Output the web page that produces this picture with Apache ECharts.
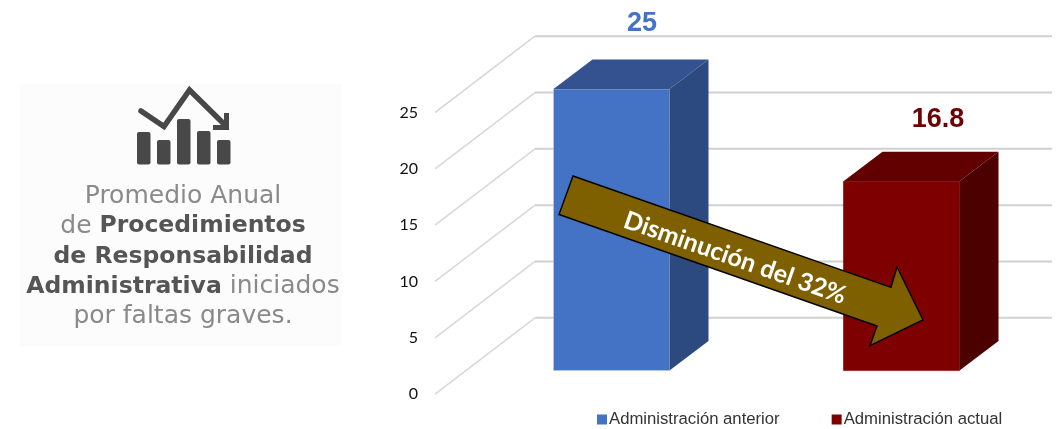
<!DOCTYPE html>
<html>
<head>
<meta charset="utf-8">
<script src="https://cdn.jsdelivr.net/npm/echarts@6/dist/echarts.min.js"></script>
<style>html,body{margin:0;padding:0;background:#fff}#c{width:1062px;height:429px}</style>
</head>
<body>
<div id="c"></div>
<script>
const categories = ['Administración anterior', 'Administración actual'];
const valuesAnterior = [25];
const valuesActual = [16.8];
const yTicks = [0, 5, 10, 15, 20, 25];
const arrowText = 'Disminución del 32%';
const panelLines = '{l|Promedio Anual}\n{l|de }{b|Procedimientos}\n{b|de Responsabilidad}\n{b|Administrativa}{l| iniciados}\n{l|por faltas graves.}';

const wallDx = 100, wallDy = -76.3, wallRight = 1052;
const barFront = [31.5, -23.5], barDepth = [39, -29.5];
const palette = {
  blue: { front: '#4472C4', top: '#34528F', side: '#2C4A80', label: '#4472C4', edge: '#C9CDD6' },
  red: { front: '#7F0000', top: '#620000', side: '#4C0000', label: '#6E0000', edge: '#7F0000' }
};

function wallItem(params, api) {
  const v = api.value(0);
  const y = api.coord([0, v])[1];
  const x = params.coordSys.x;
  return { type: 'group', children: [
    { type: 'line', shape: { x1: x, y1: y, x2: x + wallDx, y2: y + wallDy },
      style: { stroke: '#D9D9D9', lineWidth: 1.6 } },
    { type: 'line', shape: { x1: x + wallDx, y1: y + wallDy, x2: wallRight, y2: y + wallDy },
      style: { stroke: '#D0D0D0', lineWidth: 2 } }
  ] };
}

function barItem(colors, labelDx, labelDy) {
  return function (params, api) {
    const i = api.value(0), v = api.value(1);
    const top = api.coord([i, v]), base = api.coord([i, 0]);
    const w = api.size([1, 0])[0] * 0.4;
    const x0 = top[0] + barFront[0] - w / 2, x1 = x0 + w;
    const yT = top[1] + barFront[1], yB = base[1] + barFront[1];
    const dx = barDepth[0], dy = barDepth[1];
    return { type: 'group', children: [
      { type: 'rect', shape: { x: x0, y: yT, width: w, height: yB - yT },
        style: { fill: colors.front, stroke: colors.edge, lineWidth: 0.6 } },
      { type: 'polygon', shape: { points: [[x0, yT], [x0 + dx, yT + dy], [x1 + dx, yT + dy], [x1, yT]] },
        style: { fill: colors.top } },
      { type: 'polygon', shape: { points: [[x1, yT], [x1 + dx, yT + dy], [x1 + dx, yB + dy], [x1, yB]] },
        style: { fill: colors.side } },
      { type: 'text', x: top[0] + labelDx, y: yT + labelDy,
        style: { text: String(v), fill: colors.label, font: 'bold 27px "Liberation Sans"', align: 'center', verticalAlign: 'middle' } }
    ] };
  };
}

const chart = echarts.init(document.getElementById('c'), null, { renderer: 'canvas' });
chart.setOption({
  animation: false,
  backgroundColor: '#fff',
  grid: { left: 435, width: 580, top: 112.5, height: 281.6 },
  legend: {
    left: 592, top: 411, padding: [0, 0, 0, 5], itemWidth: 10, itemHeight: 10, itemGap: 52, icon: 'rect',
    data: categories,
    textStyle: { fontFamily: 'Liberation Sans', fontSize: 16.7, color: '#333', padding: [0, 0, 0, -3] }
  },
  xAxis: { type: 'category', data: categories, axisLine: { show: false }, axisTick: { show: false }, axisLabel: { show: false } },
  yAxis: { type: 'value', min: 0, max: 25, interval: 5, splitLine: { show: false }, axisLine: { show: false }, axisTick: { show: false },
    axisLabel: { margin: 17, fontFamily: 'Lato', fontSize: 16, color: '#111' } },
  series: [
    { type: 'custom', name: 'wall', silent: true, z: 1, data: yTicks.map(v => [v]), encode: { y: 0 }, renderItem: wallItem },
    { type: 'custom', name: categories[0], z: 2, itemStyle: { color: palette.blue.front }, data: valuesAnterior.map(v => [0, v]),
      encode: { x: 0, y: 1 }, renderItem: barItem(palette.blue, 62, -65) },
    { type: 'custom', name: categories[1], z: 2, itemStyle: { color: palette.red.front }, data: valuesActual.map(v => [1, v]),
      encode: { x: 0, y: 1 }, renderItem: barItem(palette.red, 68, -62) }
  ],
  graphic: [
    { type: 'rect', z: 0, shape: { x: 20, y: 84, width: 322, height: 262 }, style: { fill: '#FCFCFC' } },
    { type: 'rect', z: 5, shape: { x: 137, y: 132, width: 13.5, height: 32.5, r: 2 }, style: { fill: '#484848' } },
    { type: 'rect', z: 5, shape: { x: 157, y: 140, width: 13.5, height: 24.5, r: 2 }, style: { fill: '#484848' } },
    { type: 'rect', z: 5, shape: { x: 177, y: 119, width: 13.5, height: 45.5, r: 2 }, style: { fill: '#484848' } },
    { type: 'rect', z: 5, shape: { x: 197, y: 131, width: 13.5, height: 33.5, r: 2 }, style: { fill: '#484848' } },
    { type: 'rect', z: 5, shape: { x: 217, y: 140, width: 13.5, height: 24.5, r: 2 }, style: { fill: '#484848' } },
    { type: 'polyline', z: 5, shape: { points: [[141, 111], [164, 126.5], [189.5, 90], [225, 125]] },
      style: { stroke: '#484848', lineWidth: 5.5, fill: null, lineCap: 'round', lineJoin: 'miter' } },
    { type: 'polyline', z: 5, shape: { points: [[226.5, 113], [226.5, 127.5], [213, 127.5]] },
      style: { stroke: '#484848', lineWidth: 5, fill: null, lineJoin: 'miter' } },
    { type: 'text', z: 5, x: 183, y: 181,
      style: { text: panelLines, align: 'center', verticalAlign: 'top', lineHeight: 30.2,
        rich: {
          l: { font: '25px "DejaVu Sans"', fill: '#8A8A8A', lineHeight: 30.2 },
          b: { font: 'bold 23.5px "DejaVu Sans"', fill: '#555555', lineHeight: 30.2 }
        } } },
    { type: 'polygon', z: 50, shape: { points: [[573, 176], [891, 287.3], [897, 267], [923, 320], [870, 345.7], [877, 326], [559, 214.5]] },
      style: { fill: '#7F6000', stroke: '#000', lineWidth: 1.4, lineJoin: 'miter' } },
    { type: 'text', z: 51, x: 735, y: 258, rotation: -19.3 * Math.PI / 180,
      style: { text: arrowText, fill: '#fff', font: 'bold 25px Lato', align: 'center', verticalAlign: 'middle' } }
  ]
});
</script>
</body>
</html>
